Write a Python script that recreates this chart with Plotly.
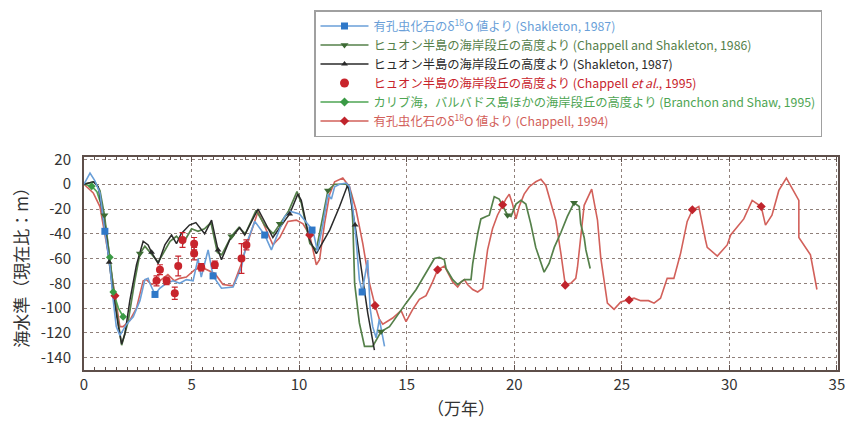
import plotly.graph_objects as go

# ---------------- data (x: 万年, y: m relative to present) ----------------
blue_x = [0, 0.28, 0.5, 0.74, 0.97, 1.2, 1.36, 1.5, 1.67, 1.82,
          1.98, 2.29, 2.6, 2.83, 2.98, 3.06, 3.3, 3.52, 3.83, 4.14,
          4.45, 4.76, 5.07, 5.3, 5.45, 5.77, 6.0, 6.39, 6.93, 7.32,
          7.55, 7.94, 8.4, 8.71, 8.94, 9.33, 9.6, 10.02, 10.3, 10.64,
          10.85, 11.08, 11.34, 11.5, 11.65, 11.88, 12.19, 12.34, 12.5, 12.65,
          12.8, 12.93, 13.19, 13.3, 13.42, 13.58, 13.73, 13.97]
blue_y = [0, 9, 3, -7, -38, -65, -94, -115, -122, -118,
          -113, -107, -94, -77, -76, -80, -89, -84, -80, -78,
          -80, -77, -78, -60, -75, -53, -74, -84, -83, -67,
          -48, -30, -41, -53, -43, -26, -22, -24, -30, -37,
          -54, -35, -8, -12, -2, 0, 1, -2, -20, -45,
          -77, -87, -61, -100, -115, -124, -109, -131]
blue_mk_x = [0.97, 3.3, 6.0, 8.4, 10.6, 12.93]
blue_mk_y = [-38, -89, -74, -41, -37, -87]

dkgreen_x = [0, 0.5, 0.74, 0.95, 1.2, 1.45, 1.75, 2.05, 2.36, 2.6,
             2.83, 3.06, 3.45, 4.0, 4.3, 4.6, 5.0, 5.3, 5.6, 5.9,
             6.2, 6.4, 6.85, 7.2, 7.5, 8.0, 8.4, 8.8, 9.1, 9.5,
             9.9, 10.1, 10.5, 10.8, 11.34, 11.65, 12.19, 12.42, 12.5, 12.58,
             12.8, 13.04, 13.42, 13.81, 14.2, 14.66, 14.97, 15.44, 15.9, 16.29,
             16.52, 16.75, 16.83, 17.14, 17.37, 17.68, 17.99, 18.07, 18.3, 18.45,
             18.69, 18.84, 19.07, 19.3, 19.69, 19.85, 20.08, 20.31, 20.54, 20.77,
             21.0, 21.39, 21.62, 21.86, 22.17, 22.47, 22.78, 23.02, 23.09, 23.25,
             23.33, 23.53]
dkgreen_y = [0, 2, -5, -25, -60, -95, -130, -111, -78, -56,
             -50, -55, -63, -46, -42, -48, -36, -38, -36, -31,
             -55, -57, -42, -35, -40, -21, -33, -40, -32, -22,
             -6, -15, -48, -53, -5, 0, 0, -8, -32, -80,
             -112, -131, -131, -119, -115, -103, -96, -85, -71, -60,
             -59, -61, -68, -77, -81, -77, -77, -64, -40, -28,
             -26, -25, -10, -12, -25, -26, -16, -13, -16, -32,
             -51, -71, -64, -51, -39, -26, -15, -18, -32, -43,
             -53, -68]
dkgreen_mk_x = [0.95, 2.6, 6.85, 9.1, 11.34, 13.81, 19.69, 22.78]
dkgreen_mk_y = [-25, -56, -42, -32, -5, -119, -25, -15]

black_x = [0, 0.43, 0.66, 0.82, 1.05, 1.17, 1.36, 1.6, 1.75, 1.9,
           2.13, 2.44, 2.75, 2.98, 3.14, 3.45, 3.76, 4.07, 4.3, 4.52,
           4.9, 5.2, 5.38, 5.61, 5.93, 6.23, 6.39, 6.77, 7.24, 7.47,
           8.09, 8.78, 9.1, 9.56, 9.94, 10.1, 10.49, 10.8, 11.42, 11.88,
           12.27, 12.6, 12.88, 13.19, 13.5]
black_y = [0, 2, -2, -18, -44, -63, -89, -115, -129, -121,
           -94, -65, -46, -49, -55, -64, -49, -41, -48, -40,
           -33, -31, -35, -40, -29, -53, -61, -45, -35, -41,
           -20, -43, -35, -24, -8, -13, -45, -56, -37, -18,
           0, -33, -67, -104, -134]
black_mk_x = [1.17, 3.14, 6.23, 9.56, 12.6]
black_mk_y = [-63, -55, -53, -24, -33]

circ_x = [3.37, 3.53, 3.84, 4.22, 4.38, 4.58, 5.12, 5.12, 5.45, 6.08, 7.32, 7.55]
circ_y = [-78, -69, -78, -88, -66, -45, -48, -56, -67, -65, -60, -49]
circ_err = [4, 4, 3, 5, 8, 6, 5, 5, 3, 3, 12, 4]

ltgreen_x = [0, 0.36, 0.6, 0.9, 1.2, 1.36, 1.6, 1.82]
ltgreen_y = [0, -1.6, -6, -22, -59, -87, -100, -107]
ltgreen_mk_x = [0.36, 1.2, 1.36, 1.82]
ltgreen_mk_y = [-1.6, -59, -87, -107]

red_x = [0, 0.43, 0.74, 0.97, 1.2, 1.44, 1.67, 1.82, 2.13, 2.44,
         2.75, 2.9, 3.14, 3.52, 3.9, 4.2, 4.45, 4.76, 5.15, 5.46,
         5.8, 6.08, 6.46, 6.93, 7.32, 7.55, 8.09, 8.48, 8.78, 9.1,
         9.48, 9.87, 10.18, 10.49, 10.8, 10.95, 11.18, 11.42, 11.65, 12.03,
         12.34, 12.65, 12.96, 13.27, 13.53, 13.73, 13.89, 14.35, 14.74, 14.97,
         15.28, 15.59, 15.9, 16.2, 16.44, 16.75, 17.14, 17.37, 17.53, 17.68,
         17.83, 18.07, 18.3, 18.53, 18.76, 18.99, 19.22, 19.46, 19.61, 19.77,
         19.92, 20.08, 20.23, 20.46, 20.7, 21.0, 21.24, 21.47, 21.7, 21.93,
         22.17, 22.37, 22.63, 22.86, 22.94, 23.09, 23.25, 23.6, 23.87, 24.02,
         24.33, 24.64, 24.95, 25.34, 25.57, 25.88, 26.24, 26.5, 26.8, 27.11,
         27.42, 27.73, 28.04, 28.28, 28.58, 28.89, 28.97, 29.44, 29.9, 30.06,
         30.67, 31.06, 31.48, 31.68, 31.98, 32.3, 32.65, 33.23, 33.23, 33.77,
         34.07]
red_y = [0, -7, -18, -39, -63, -90, -115, -115, -110, -100,
         -78, -77, -81, -78, -73, -78, -76, -75, -69, -67,
         -70, -72, -81, -82, -64, -50, -22, -37, -49, -43,
         -30, -29, -32, -41, -65, -61, -32, -8, 2, 5,
         -2, -21, -48, -80, -98, -109, -113, -108, -102, -111,
         -101, -93, -90, -79, -69, -66, -79, -83, -79, -77,
         -81, -85, -87, -84, -53, -36, -25, -17, -12, -8,
         -16, -28, -18, -8, -2, 2, 4, -1, -16, -29,
         -56, -81, -80, -76, -67, -43, -17, -4, -29, -59,
         -96, -101, -95, -93, -92, -94, -94, -96, -92, -76,
         -76, -56, -30, -21, -18, -45, -51, -58, -49, -41,
         -28, -13, -18, -33, -25, -5, 5, -13, -43, -57,
         -85]
red_mk_x = [1.44, 10.49, 13.53, 16.44, 19.46, 22.37, 25.34, 28.28, 31.48]
red_mk_y = [-90, -41, -98, -69, -16.6, -81.5, -93.5, -20.6, -18]

x_ticks = [0, 5, 10, 15, 20, 25, 30, 35]
y_ticks = [20, 0, -20, -40, -60, -80, -100, -120, -140]

legend_names = [
    "有孔虫化石のδ<sup>18</sup>O 値より (Shakleton, 1987)",
    "ヒュオン半島の海岸段丘の高度より (Chappell and Shakleton, 1986)",
    "ヒュオン半島の海岸段丘の高度より (Shakleton, 1987)",
    "ヒュオン半島の海岸段丘の高度より (Chappell <i>et al.</i>, 1995)",
    "カリブ海，バルバドス島ほかの海岸段丘の高度より (Branchon and Shaw, 1995)",
    "有孔虫化石のδ<sup>18</sup>O 値より (Chappell, 1994)",
]

# ---------------- styles ----------------
C_BLUE_L, C_BLUE_M = "#6a9fd8", "#2f78c8"
C_DKG_L, C_DKG_M = "#55804a", "#3d6a34"
C_BLK = "#2a2a2a"
C_RED_C = "#c8242c"
C_LTG_L, C_LTG_M = "#4ea553", "#3a9a45"
C_RED_L, C_RED_M = "#d2605a", "#c0242c"
FONT = "Noto Sans CJK JP, Noto Sans, sans-serif"

fig = go.Figure()


def add_line(x, y, color, width=1.6):
    fig.add_trace(go.Scatter(x=x, y=y, mode="lines", showlegend=False,
                             line=dict(color=color, width=width), hoverinfo="skip"))


def add_marks(x, y, color, symbol, size):
    fig.add_trace(go.Scatter(x=x, y=y, mode="markers", showlegend=False,
                             marker=dict(color=color, symbol=symbol, size=size,
                                         line=dict(width=0)), hoverinfo="skip"))


add_line(red_x, red_y, C_RED_L, 1.6)
add_line(ltgreen_x, ltgreen_y, C_LTG_L, 1.6)
add_line(dkgreen_x, dkgreen_y, C_DKG_L, 1.7)
add_line(black_x, black_y, C_BLK, 1.5)
add_line(blue_x, blue_y, C_BLUE_L, 1.6)

add_marks(red_mk_x, red_mk_y, C_RED_M, "diamond", 7)
add_marks(ltgreen_mk_x, ltgreen_mk_y, C_LTG_M, "diamond", 6)
add_marks(dkgreen_mk_x, dkgreen_mk_y, C_DKG_M, "triangle-down", 7)
add_marks(black_mk_x, black_mk_y, C_BLK, "triangle-up", 6)
add_marks(blue_mk_x, blue_mk_y, C_BLUE_M, "square", 7)

fig.add_trace(go.Scatter(
    x=circ_x, y=circ_y, mode="markers", showlegend=False, hoverinfo="skip",
    marker=dict(color=C_RED_C, size=8, symbol="circle"),
    error_y=dict(type="data", array=circ_err, color=C_RED_C, thickness=1.2, width=3)))

# legend entries (empty traces carrying the legend styling)
leg_styles = [
    (C_BLUE_L, C_BLUE_M, "square", "lines+markers", 7),
    (C_DKG_L, C_DKG_M, "triangle-down", "lines+markers", 7),
    (C_BLK, C_BLK, "triangle-up", "lines+markers", 6),
    (C_RED_C, C_RED_C, "circle", "markers", 9),
    (C_LTG_L, C_LTG_M, "diamond", "lines+markers", 7),
    (C_RED_L, C_RED_M, "diamond", "lines+markers", 7),
]
for name, (lc, mc, sym, mode, sz) in zip(legend_names, leg_styles):
    tcol = mc if mode == "markers" else lc
    fig.add_trace(go.Scatter(
        x=[None], y=[None], mode=mode,
        name=f"<span style='color:{tcol}'>{name}</span>",
        line=dict(color=lc, width=1.6),
        marker=dict(color=mc, symbol=sym, size=sz)))

L, R, T, B = 84, 7, 157, 52
W, H = 845, 422
pw, ph = W - L - R, H - T - B

fig.update_layout(
    width=W, height=H,
    margin=dict(l=L, r=R, t=T, b=B, autoexpand=False),
    paper_bgcolor="white", plot_bgcolor="white",
    font=dict(family=FONT, color="#333333", size=15),
    showlegend=True,
    legend=dict(x=(314 - L) / pw, y=(H - B - 10) / ph,
                xanchor="left", yanchor="top",
                bgcolor="white", bordercolor="#a0a0a0", borderwidth=1.5,
                font=dict(size=12.3, family=FONT), tracegroupgap=0,
                itemwidth=48),
    xaxis=dict(range=[0, 35.05], tickvals=x_ticks, ticktext=[str(v) for v in x_ticks],
               automargin=False, ticklabeloverflow="allow",
               showgrid=True, gridcolor="#8f807a", griddash="dot", gridwidth=1,
               zeroline=False, showline=True, linecolor="#5e4f4a", linewidth=2,
               mirror="allticks", ticks="inside", ticklen=5, tickcolor="#5e4f4a",
               minor=dict(dtick=0.5, tick0=0, ticks="inside", ticklen=3,
                          tickcolor="#5e4f4a", showgrid=False),
               tickfont=dict(size=15, color="#333333"),
               title=dict(text="（万年）", font=dict(size=17, color="#333333"), standoff=10)),
    yaxis=dict(range=[-150, 22], tickvals=y_ticks, ticktext=[str(v) for v in y_ticks],
               automargin=False, ticklabeloverflow="allow",
               showgrid=True, gridcolor="#8f807a", griddash="dot", gridwidth=1,
               zeroline=False, showline=True, linecolor="#5e4f4a", linewidth=2,
               mirror=True, ticks="", ticklabelstandoff=8,
               tickfont=dict(size=15, color="#333333"),
               title=dict(text="海水準（現在比：m）", font=dict(size=17, color="#333333"), standoff=8)),
)

fig.write_html("out.html", config={"displayModeBar": False},
               post_script="document.body.style.margin='0px';document.body.style.overflow='hidden';")
